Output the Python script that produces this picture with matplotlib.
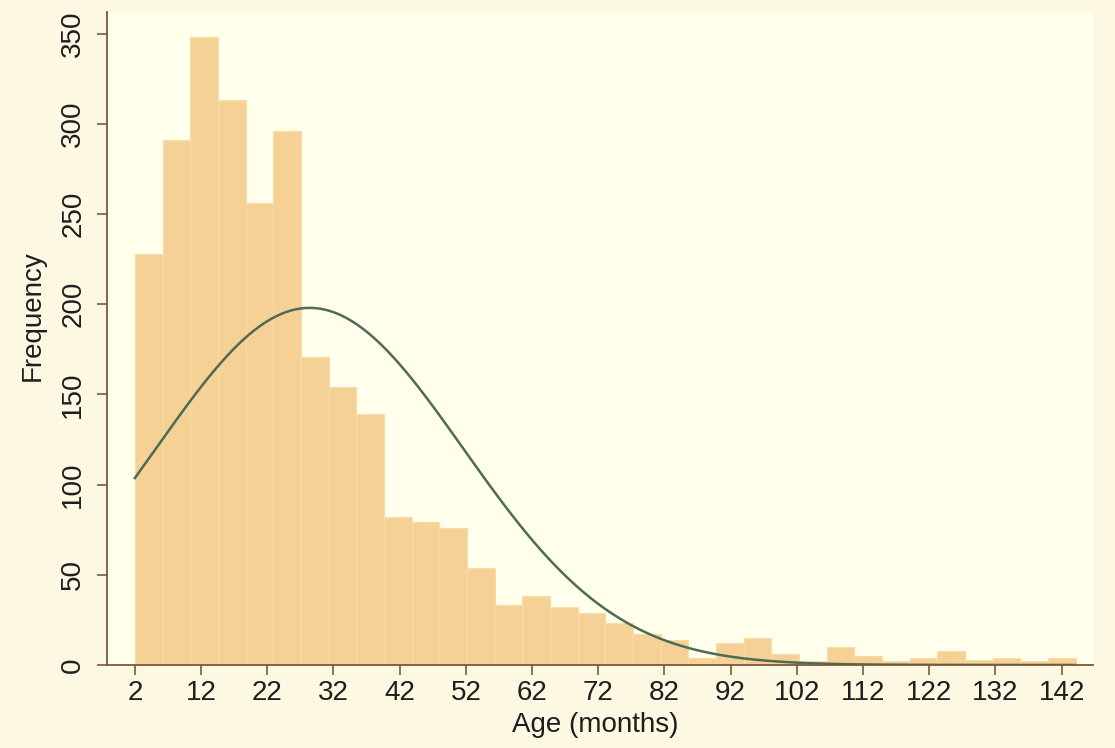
import numpy as np
import matplotlib.pyplot as plt

plt.rcParams['font.family'] = ['Liberation Sans', 'DejaVu Sans']

# histogram of age, 34 bins from 2 to ~144 months
bin_start = 2.0
bin_width = 4.18
counts = [228, 291, 348, 313, 256, 296, 171, 154, 139, 82, 79, 76, 54,
          33, 38, 32, 29, 23, 17, 14, 4, 12, 15, 6, 2, 10, 5, 2, 4, 8,
          3, 4, 2, 4]
xticks = list(range(2, 143, 10))
yticks = [0, 50, 100, 150, 200, 250, 300, 350]

# normal curve overlay
curve_mean = 28.4
curve_sd = 23.2

bar_color = '#f6d195'
curve_color = '#4d6b55'
axis_color = '#7a5a3a'

fig = plt.figure(figsize=(11.15, 7.48), dpi=100, facecolor='#fcf8e2')
ax = fig.add_axes([0.096, 0.111, 0.884, 0.873])
ax.set_facecolor('#ffffeb')

n_bins = len(counts)
left_edges = bin_start + bin_width * np.arange(n_bins)
ax.bar(left_edges, counts, width=bin_width, align='edge',
       color=bar_color, edgecolor='#f9dcaa', linewidth=0.8)

n_total = sum(counts)
xs = np.linspace(bin_start, bin_start + bin_width * n_bins, 400)
dens = np.exp(-0.5 * ((xs - curve_mean) / curve_sd) ** 2) / (curve_sd * np.sqrt(2 * np.pi))
ax.plot(xs, n_total * bin_width * dens, color=curve_color, lw=1.8)

ax.set_xlim(-2.2, 146.7)
ax.set_ylim(0, 362)
ax.set_xticks(xticks)
ax.set_yticks(yticks)
ax.tick_params(axis='both', colors=axis_color, labelcolor='#1e1e1e',
               labelsize=20, length=7, width=1.2)
ax.tick_params(axis='x', pad=4)
ax.tick_params(axis='y', pad=8)
for lbl in ax.get_yticklabels():
    lbl.set_rotation(90)
    lbl.set_va('center')

for side in ['top', 'right']:
    ax.spines[side].set_visible(False)
for side in ['left', 'bottom']:
    ax.spines[side].set_color(axis_color)
    ax.spines[side].set_linewidth(1.3)

ax.set_xlabel('Age (months)', fontsize=20, color='#1e1e1e')
ax.set_ylabel('Frequency', fontsize=20, color='#1e1e1e')
ax.xaxis.set_label_coords(0.495, -0.072)
ax.yaxis.set_label_coords(-0.062, 0.535)

fig.savefig('out.png', dpi=100, facecolor=fig.get_facecolor())
